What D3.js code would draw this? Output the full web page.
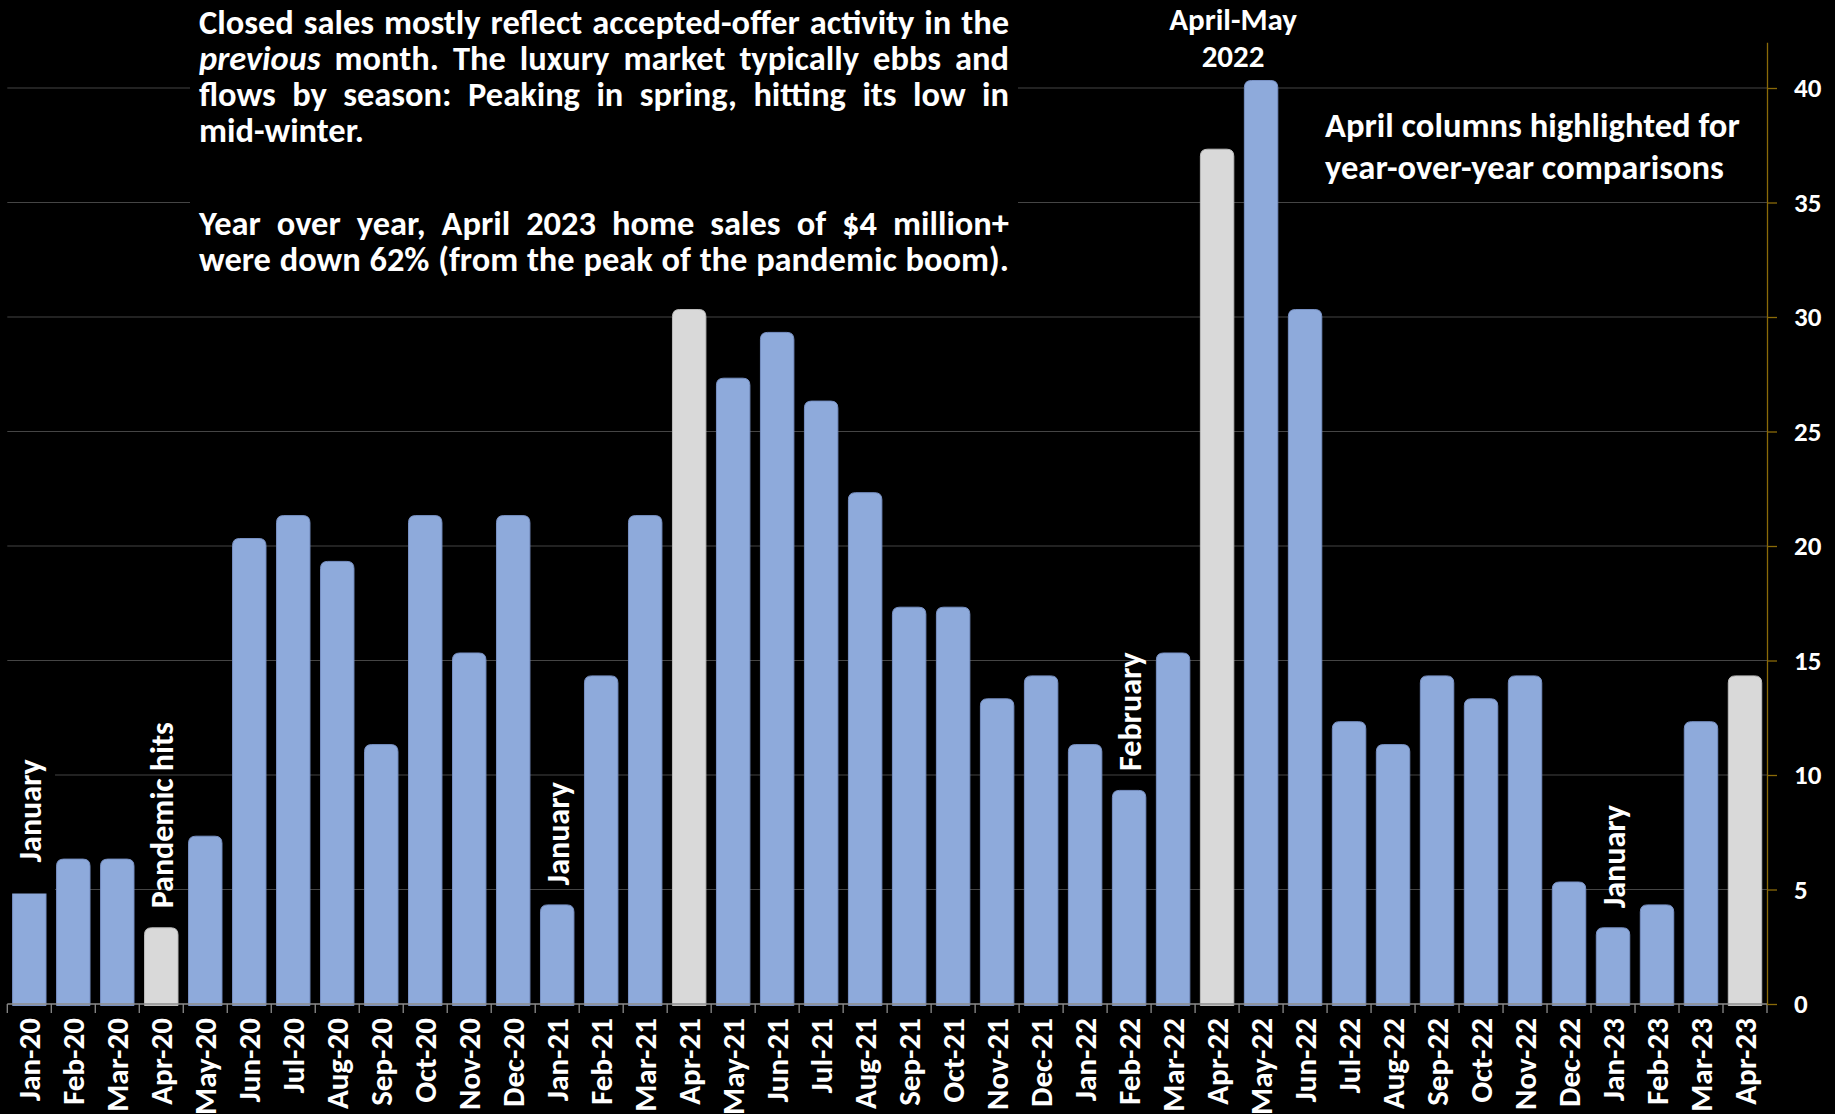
<!DOCTYPE html>
<html>
<head>
<meta charset="utf-8">
<script src="https://cdn.jsdelivr.net/npm/d3@7"></script>
<style>
  html, body { margin: 0; padding: 0; background: #000; }
  svg { display: block; }
  text { font-family: Carlito, Calibri, "Open Sans", sans-serif; font-weight: 700; fill: #fff; }
</style>
</head>
<body>
<svg id="chart" width="1835" height="1114"></svg>
<script>
// Monthly closed sales of $4 million+ homes
const months = ["Jan-20","Feb-20","Mar-20","Apr-20","May-20","Jun-20","Jul-20","Aug-20","Sep-20","Oct-20","Nov-20","Dec-20",
                "Jan-21","Feb-21","Mar-21","Apr-21","May-21","Jun-21","Jul-21","Aug-21","Sep-21","Oct-21","Nov-21","Dec-21",
                "Jan-22","Feb-22","Mar-22","Apr-22","May-22","Jun-22","Jul-22","Aug-22","Sep-22","Oct-22","Nov-22","Dec-22",
                "Jan-23","Feb-23","Mar-23","Apr-23"];
const sales = [5,6,6,3,7,20,21,19,11,21,15,21,
               4,14,21,30,27,29,26,22,17,17,13,14,
               11,9,15,37,40,30,12,11,14,13,14,5,
               3,4,12,14];
const aprilMonths = ["Apr-20","Apr-21","Apr-22","Apr-23"];
const yTicks = [0,5,10,15,20,25,30,35,40];
const yMax = 42;

// Vertical notes placed over single columns
const noteMonths = ["Jan-20","Apr-20","Jan-21","Feb-22","Jan-23"];
const noteTexts  = ["January","Pandemic hits","January","February","January"];

// Paragraph copy (one entry per rendered line)
const para1 = ["Closed sales mostly reflect accepted-offer activity in the",
               "previous month. The luxury market typically ebbs and",
               "flows by season: Peaking in spring, hitting its low in",
               "mid-winter."];
const para2 = ["Year over year, April 2023 home sales of $4 million+",
               "were down 62% (from the peak of the pandemic boom)."];
const italicWord = "previous";
const peakLabel = ["April-May","2022"];
const highlightNote = ["April columns highlighted for","year-over-year comparisons"];

const BLUE = "#8eaadb", BLUE_EDGE = "#7891c4";
const GRAY = "#d9d9d9", GRAY_EDGE = "#bdbdbd";

const svg = d3.select("#chart");
const left = 7.3, right = 1767, baseY = 1004, topY = baseY - yMax * 22.9;

const x = d3.scaleBand().domain(months).range([left, right]).paddingInner(0.24).paddingOuter(0.12);
const y = d3.scaleLinear().domain([0, yMax]).range([baseY, topY]);
const step = x.step();

// gridlines
svg.append("g").selectAll("line").data(yTicks.filter(d => d > 0)).join("line")
  .attr("x1", left).attr("x2", right)
  .attr("y1", d => y(d)).attr("y2", d => y(d))
  .attr("stroke", "#454545").attr("stroke-width", 1.2);

// bars with rounded tops
const cap = 7.5, r = 7;
function barPath(d, i) {
  const x0 = x(months[i]), w = x.bandwidth();
  const t = y(d) - cap, b = baseY + 1.5;
  return `M${x0},${b}V${t + r}Q${x0},${t} ${x0 + r},${t}H${x0 + w - r}Q${x0 + w},${t} ${x0 + w},${t + r}V${b}Z`;
}
svg.append("g").selectAll("path").data(sales).join("path")
  .attr("d", barPath)
  .attr("fill", (d, i) => aprilMonths.includes(months[i]) ? GRAY : BLUE)
  .attr("stroke", (d, i) => aprilMonths.includes(months[i]) ? GRAY_EDGE : BLUE_EDGE)
  .attr("stroke-width", 1);

// bottom axis line and boundary ticks
const gx = svg.append("g");
gx.append("line").attr("x1", left).attr("x2", right).attr("y1", baseY).attr("y2", baseY)
  .attr("stroke", "#8c8c8c").attr("stroke-width", 1.3);
gx.selectAll("line.tk").data(d3.range(months.length + 1)).join("line").attr("class", "tk")
  .attr("x1", i => left + i * step).attr("x2", i => left + i * step)
  .attr("y1", baseY).attr("y2", baseY + 9)
  .attr("stroke", "#8c8c8c").attr("stroke-width", 1.3);

// month labels, rotated
const xAxis = svg.append("g").attr("transform", `translate(0,${baseY})`)
  .call(d3.axisBottom(x).tickSize(0).tickPadding(0));
xAxis.select(".domain").remove();
xAxis.selectAll("text")
  .attr("y", 0).attr("x", -14).attr("dy", "0.36em")
  .attr("transform", "rotate(-90)")
  .style("text-anchor", "end")
  .style("font-size", "31px").style("font-family", null).attr("fill", "#fff");

// right value axis
const yAxis = svg.append("g").attr("transform", `translate(${right},0)`)
  .call(d3.axisRight(y).tickValues(yTicks).tickSize(10).tickSizeOuter(0).tickPadding(17));
yAxis.select(".domain").attr("stroke", "#8a6a08").attr("stroke-width", 1.3);
yAxis.selectAll(".tick line").attr("stroke", "#8a6a08").attr("stroke-width", 1.3);
yAxis.selectAll("text").style("font-size", "27px").style("font-family", null).attr("fill", "#fff");

// vertical notes above columns
const noteGap = 27;
noteMonths.forEach((m, k) => {
  const i = months.indexOf(m);
  const cx = x(m) + x.bandwidth() / 2;
  const start = y(sales[i]) - noteGap;
  const g = svg.append("g");
  const t = g.append("text")
    .attr("transform", `translate(${cx},${start}) rotate(-90)`)
    .attr("dy", "0.36em")
    .style("font-size", "32px")
    .text(noteTexts[k]);
  if (k === 0) {
    // first note sits in an opaque box that overlaps the top of its column
    const len = t.node().getComputedTextLength();
    g.insert("rect", "text")
      .attr("x", 0).attr("width", x(m) + x.bandwidth() + 9)
      .attr("y", start - len - 12).attr("height", y(sales[i]) + 4 - (start - len - 12))
      .attr("fill", "#000");
  }
});

// returns the font size at which the widest line spans `width`
function fitSize(lines, base, width) {
  const probe = svg.append("text").style("font-size", base + "px");
  let maxW = 0;
  lines.forEach(l => { probe.text(l); maxW = Math.max(maxW, probe.node().getComputedTextLength()); });
  probe.remove();
  return base * width / maxW;
}

// paragraph block, justified to a fixed column through word spacing
const pX = 199, pW = 810;
svg.append("rect").attr("x", 190).attr("y", 0).attr("width", 828).attr("height", 290).attr("fill", "#000");
const pg = svg.append("g");
function layoutLines(lines, firstBase, lineStep, justifyLast, fs) {
  lines.forEach((line, li) => {
    const t = pg.append("text").attr("x", pX).attr("y", firstBase + li * lineStep)
      .style("font-size", fs + "px");
    if (line.startsWith(italicWord + " ")) {
      t.append("tspan").style("font-style", "italic").text(italicWord);
      t.append("tspan").text(line.slice(italicWord.length));
    } else {
      t.text(line);
    }
    const natural = t.node().getComputedTextLength();
    const spaces = line.split(" ").length - 1;
    const justify = li < lines.length - 1 || justifyLast;
    if (justify && spaces > 0) {
      t.style("word-spacing", Math.max(0, (pW - natural) / spaces) + "px");
    }
  });
}
const fs = fitSize(para1.concat(para2), 30, pW * 0.99);
layoutLines(para1, 33.5, 36.3, false, fs);
layoutLines(para2, 235, 36.3, true, fs);

// peak label
const peakX = (x("Apr-22") + x("May-22") + x.bandwidth()) / 2 - 6;
svg.append("g").selectAll("text").data(peakLabel).join("text")
  .attr("x", peakX).attr("y", (d, i) => 29.5 + i * 37.5)
  .attr("text-anchor", "middle").style("font-size", "31px")
  .text(d => d);

// highlight note
const hs = fitSize(highlightNote, 30, 415);
svg.append("g").selectAll("text").data(highlightNote).join("text")
  .attr("x", 1325).attr("y", (d, i) => 137 + i * 42)
  .style("font-size", hs + "px")
  .text(d => d);
</script>
</body>
</html>
